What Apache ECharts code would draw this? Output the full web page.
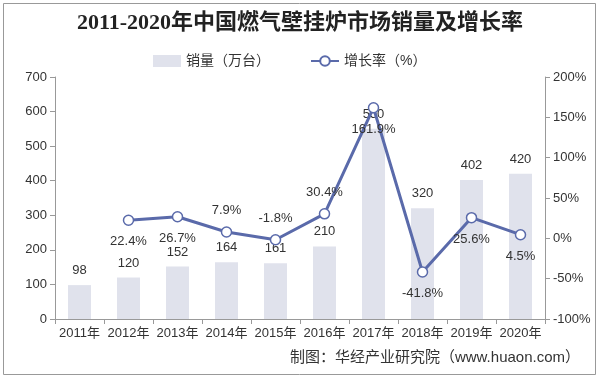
<!DOCTYPE html>
<html><head><meta charset="utf-8">
<script src="https://cdn.jsdelivr.net/npm/echarts@6/dist/echarts.min.js"></script>
<style>html,body{margin:0;padding:0;background:#fff}#c{width:600px;height:378px}</style>
</head><body><div id="c"></div>
<script>
var years = ['2011年','2012年','2013年','2014年','2015年','2016年','2017年','2018年','2019年','2020年'];
var sales = [98,120,152,164,161,210,550,320,402,420];
var growth = [null,22.4,26.7,7.9,-1.8,30.4,161.9,-41.8,25.6,4.5];
var growthLabelPos = ['bottom','bottom','bottom','top','top','top','bottom','bottom','bottom','bottom'];

var chart = echarts.init(document.getElementById('c'), null, {renderer:'canvas'});
var txt = '#333';
var ff = 'Arial, "Liberation Sans", "Noto Sans CJK SC", sans-serif';
chart.setOption({
  animation:false,
  backgroundColor:'#fff',
  title:{text:'2011-2020年中国燃气壁挂炉市场销量及增长率',left:'center',top:7,
    textStyle:{fontFamily:'"Liberation Serif","Noto Sans CJK SC",serif',fontWeight:'bold',fontSize:22,color:'#222'}},
  legend:{top:49,left:148,itemGap:40,itemWidth:28,itemHeight:12,
    textStyle:{fontFamily:ff,fontSize:14,color:'#333'},
    data:[{name:'销量（万台）',icon:'rect'},{name:'增长率（%）'}]},
  grid:{left:55,right:55,top:77,bottom:59,containLabel:false},
  xAxis:{type:'category',data:years,
    axisLine:{lineStyle:{color:'#999'}},axisTick:{show:true,alignWithLabel:false,lineStyle:{color:'#999'}},
    axisLabel:{color:txt,fontSize:13,fontFamily:ff,interval:0,margin:8}},
  yAxis:[
    {type:'value',min:0,max:700,interval:100,splitLine:{show:false},
     axisLine:{show:true,lineStyle:{color:'#999'}},axisTick:{show:true,lineStyle:{color:'#999'}},
     axisLabel:{color:txt,fontSize:13,fontFamily:ff}},
    {type:'value',min:-100,max:200,interval:50,splitLine:{show:false},
     axisLine:{show:true,lineStyle:{color:'#999'}},axisTick:{show:true,lineStyle:{color:'#999'}},
     axisLabel:{color:txt,fontSize:13,fontFamily:ff,formatter:'{value}%'}}
  ],
  series:[
    {name:'销量（万台）',type:'bar',data:sales,barWidth:23,
     itemStyle:{color:'#e0e2ec'},
     label:{show:true,position:'top',distance:8,color:txt,fontSize:13,fontFamily:ff}},
    {name:'增长率（%）',type:'line',yAxisIndex:1,
     data:growth.map(function(v,i){return {value:v,label:{position:growthLabelPos[i]}};}),
     symbol:'circle',symbolSize:10,showSymbol:true,connectNulls:false,
     lineStyle:{color:'#5a6aaa',width:3},
     itemStyle:{color:'#fff',borderColor:'#5a6aaa',borderWidth:1.5},
     label:{show:true,distance:9,color:txt,fontSize:13,fontFamily:ff,
       formatter:function(p){return p.value==null?'':p.value+'%';}}}
  ],
  graphic:[
    {type:'rect',shape:{x:3.5,y:3.5,width:592,height:371},style:{fill:'none',stroke:'#999',lineWidth:1}},
    {type:'text',right:20,top:350,style:{text:'制图：华经产业研究院（www.huaon.com）',font:'15px '+ff,fill:'#333'}}
  ]
});
</script></body></html>
